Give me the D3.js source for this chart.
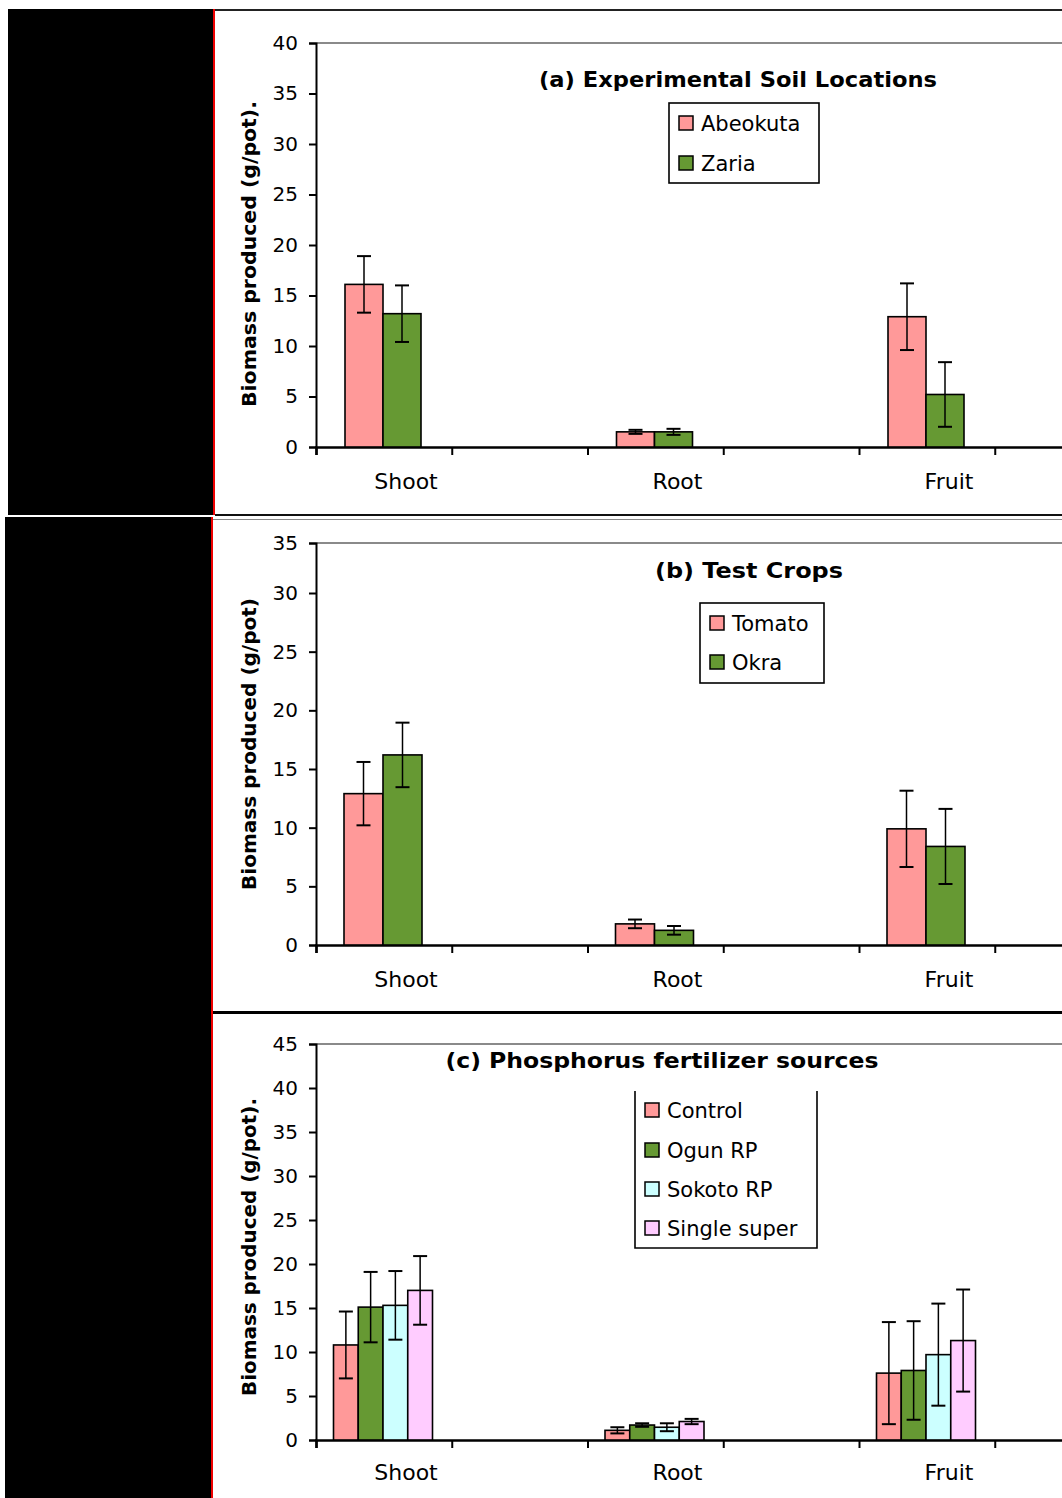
<!DOCTYPE html>
<html>
<head>
<meta charset="utf-8">
<script src="https://cdn.jsdelivr.net/npm/d3@7"></script>
<style>
  html, body { margin: 0; padding: 0; background: #fff; }
  svg { display: block; }
  text { font-family: "DejaVu Sans", sans-serif; fill: #000; }
</style>
</head>
<body>
<svg id="chart" width="1062" height="1498"></svg>
<script>
// ---------- DATA ----------
const categories = ["Shoot", "Root", "Fruit"];

// (a) Experimental soil locations
const seriesA = ["Abeokuta", "Zaria"];
const abeokuta = [16.1, 1.5, 12.9];
const abeokutaErr = [2.8, 0.2, 3.3];
const zaria = [13.2, 1.5, 5.2];
const zariaErr = [2.8, 0.3, 3.2];
const ticksA = [0, 5, 10, 15, 20, 25, 30, 35, 40];

// (b) Test crops
const seriesB = ["Tomato", "Okra"];
const tomato = [12.9, 1.8, 9.9];
const tomatoErr = [2.7, 0.37, 3.25];
const okra = [16.2, 1.25, 8.4];
const okraErr = [2.75, 0.37, 3.2];
const ticksB = [0, 5, 10, 15, 20, 25, 30, 35];

// (c) Phosphorus fertilizer sources
const seriesC = ["Control", "Ogun RP", "Sokoto RP", "Single super"];
const control = [10.8, 1.1, 7.6];
const controlErr = [3.8, 0.35, 5.8];
const ogun = [15.1, 1.7, 7.9];
const ogunErr = [4.0, 0.2, 5.6];
const sokoto = [15.3, 1.45, 9.7];
const sokotoErr = [3.9, 0.45, 5.8];
const single = [17.0, 2.1, 11.3];
const singleErr = [3.9, 0.3, 5.8];
const ticksC = [0, 5, 10, 15, 20, 25, 30, 35, 40, 45];

// ---------- STYLE ----------
const PINK = "#ff9999", GREEN = "#669933", CYAN = "#ccffff", LPINK = "#ffccff";

const svg = d3.select("#chart");
const W = 1062;

// frame: black left strip, red separators, panel lines
svg.append("rect").attr("x", 8).attr("y", 9).attr("width", 205).attr("height", 506).attr("fill", "#000");
svg.append("rect").attr("x", 5).attr("y", 517).attr("width", 206).attr("height", 981).attr("fill", "#000");
svg.append("line").attr("x1", 214).attr("x2", 214).attr("y1", 9).attr("y2", 515).attr("stroke", "#e00").attr("stroke-width", 2);
svg.append("line").attr("x1", 212).attr("x2", 212).attr("y1", 517).attr("y2", 1498).attr("stroke", "#e00").attr("stroke-width", 2);
svg.append("line").attr("x1", 215).attr("x2", W).attr("y1", 10).attr("y2", 10).attr("stroke", "#222").attr("stroke-width", 2);
svg.append("line").attr("x1", 215).attr("x2", W).attr("y1", 515).attr("y2", 515).attr("stroke", "#111").attr("stroke-width", 2);
svg.append("line").attr("x1", 213).attr("x2", W).attr("y1", 519.5).attr("y2", 519.5).attr("stroke", "#888").attr("stroke-width", 1);
svg.append("line").attr("x1", 213).attr("x2", W).attr("y1", 1012.5).attr("y2", 1012.5).attr("stroke", "#000").attr("stroke-width", 3);

// shared x geometry
const xBand = d3.scaleBand().domain(categories).range([316, 316 + 3 * 271.5]).paddingInner(0).paddingOuter(0);
const xTick = d3.scaleLinear().domain([0, 6]).range([316, 316 + 6 * 135.75]);

function drawPanel(cfg) {
  const g = svg.append("g");
  const y = cfg.y;
  const y0 = y(0);
  const yTop = y(cfg.ticks[cfg.ticks.length - 1]);

  // plot area top border
  g.append("line").attr("x1", 316).attr("x2", W).attr("y1", yTop).attr("y2", yTop)
    .attr("stroke", "#8a8a8a").attr("stroke-width", 2);

  // y axis
  const ya = g.append("g").attr("transform", "translate(316,0)")
    .call(d3.axisLeft(y).tickValues(cfg.ticks).tickSize(7).tickPadding(11).tickFormat(d3.format("d")));
  ya.select(".domain").attr("stroke", "#000").attr("stroke-width", 2);
  ya.selectAll(".tick line").attr("stroke", "#000").attr("stroke-width", 2);
  ya.selectAll(".tick text").style("font-family", "DejaVu Sans").style("font-size", "20px");

  // x axis (tick marks at half-band positions)
  const xa = g.append("g").attr("transform", `translate(0,${y0})`)
    .call(d3.axisBottom(xTick).tickValues([0, 1, 2, 3, 4, 5]).tickSize(8).tickFormat(""));
  xa.select(".domain").attr("stroke", "#000").attr("stroke-width", 2.5);
  xa.selectAll(".tick line").attr("stroke", "#000").attr("stroke-width", 2);

  // category labels
  g.selectAll(".cat").data(categories).join("text")
    .attr("x", d => xBand(d) + 90)
    .attr("y", y0 + cfg.labelDy)
    .attr("text-anchor", "middle")
    .style("font-size", "22px")
    .text(d => d);

  // bars
  const inner = d3.scaleBand().domain(cfg.series).range([-cfg.groupW / 2, cfg.groupW / 2]).padding(0);
  const rows = [];
  cfg.series.forEach((s, si) => {
    categories.forEach((c, ci) => {
      rows.push({ s, c, v: cfg.values[si][ci], e: cfg.errs[si][ci], color: cfg.colors[si] });
    });
  });
  const cx = d => xBand(d.c) + 67 + inner(d.s);
  g.selectAll(".bar").data(rows).join("rect")
    .attr("x", cx)
    .attr("y", d => y(d.v))
    .attr("width", inner.bandwidth())
    .attr("height", d => y0 - y(d.v))
    .attr("fill", d => d.color)
    .attr("stroke", "#000").attr("stroke-width", 1.6);

  // error bars
  const eb = g.selectAll(".err").data(rows).join("g");
  const mid = d => cx(d) + inner.bandwidth() / 2;
  eb.append("line").attr("x1", mid).attr("x2", mid)
    .attr("y1", d => y(d.v + d.e)).attr("y2", d => y(d.v - d.e))
    .attr("stroke", "#000").attr("stroke-width", 1.5);
  [1, -1].forEach(sign => {
    eb.append("line").attr("x1", d => mid(d) - 7).attr("x2", d => mid(d) + 7)
      .attr("y1", d => y(d.v + sign * d.e)).attr("y2", d => y(d.v + sign * d.e))
      .attr("stroke", "#000").attr("stroke-width", 2);
  });

  // title
  g.append("text").attr("x", cfg.titleX).attr("y", cfg.titleY)
    .attr("text-anchor", "middle")
    .attr("textLength", cfg.titleLen).attr("lengthAdjust", "spacingAndGlyphs")
    .style("font-weight", "bold").style("font-size", "21px")
    .text(cfg.title);

  // y-axis label
  g.append("text").attr("transform", `translate(256,${cfg.yLabelY}) rotate(-90)`)
    .attr("text-anchor", "middle")
    .attr("textLength", cfg.yLabelLen).attr("lengthAdjust", "spacingAndGlyphs")
    .style("font-weight", "bold").style("font-size", "20px")
    .text(cfg.yLabel);

  // legend
  const L = cfg.legend;
  if (L.closedTop) {
    g.append("rect").attr("x", L.x).attr("y", L.y).attr("width", L.w).attr("height", L.h)
      .attr("fill", "#fff").attr("stroke", "#000").attr("stroke-width", 1.6);
  } else {
    g.append("path").attr("d", `M${L.x},${L.y}V${L.y + L.h}H${L.x + L.w}V${L.y}`)
      .attr("fill", "none").attr("stroke", "#000").attr("stroke-width", 1.6);
  }
  const li = g.selectAll(".leg").data(cfg.series).join("g")
    .attr("transform", (d, i) => `translate(${L.x + 10},${L.rows[i]})`);
  li.append("rect").attr("x", 0).attr("y", -7).attr("width", 14).attr("height", 14)
    .attr("fill", (d, i) => cfg.colors[i]).attr("stroke", "#000").attr("stroke-width", 1.5);
  li.append("text").attr("x", 22).attr("y", 7.5).style("font-size", "21px").text(d => d);
}

drawPanel({
  y: d3.scaleLinear().domain([0, 40]).range([447, 43]),
  ticks: ticksA,
  series: seriesA, values: [abeokuta, zaria], errs: [abeokutaErr, zariaErr],
  colors: [PINK, GREEN], groupW: 76, labelDy: 42,
  title: "(a) Experimental Soil Locations", titleX: 738, titleY: 87, titleLen: 398,
  yLabel: "Biomass produced (g/pot).", yLabelY: 254, yLabelLen: 306,
  legend: { x: 669, y: 103, w: 150, h: 80, rows: [123, 163], closedTop: true }
});

drawPanel({
  y: d3.scaleLinear().domain([0, 30, 35]).range([945, 593, 543]),
  ticks: ticksB,
  series: seriesB, values: [tomato, okra], errs: [tomatoErr, okraErr],
  colors: [PINK, GREEN], groupW: 78, labelDy: 42,
  title: "(b) Test Crops", titleX: 749, titleY: 578, titleLen: 188,
  yLabel: "Biomass produced (g/pot)", yLabelY: 744, yLabelLen: 292,
  legend: { x: 700, y: 603, w: 124, h: 80, rows: [623, 662], closedTop: true }
});

drawPanel({
  y: d3.scaleLinear().domain([0, 45]).range([1440, 1044]),
  ticks: ticksC,
  series: seriesC, values: [control, ogun, sokoto, single], errs: [controlErr, ogunErr, sokotoErr, singleErr],
  colors: [PINK, GREEN, CYAN, LPINK], groupW: 99, labelDy: 40,
  title: "(c) Phosphorus fertilizer sources", titleX: 662, titleY: 1068, titleLen: 433,
  yLabel: "Biomass produced (g/pot).", yLabelY: 1247, yLabelLen: 298,
  legend: { x: 635, y: 1091, w: 182, h: 157, rows: [1110, 1150, 1189, 1228], closedTop: false }
});
</script>
</body>
</html>
